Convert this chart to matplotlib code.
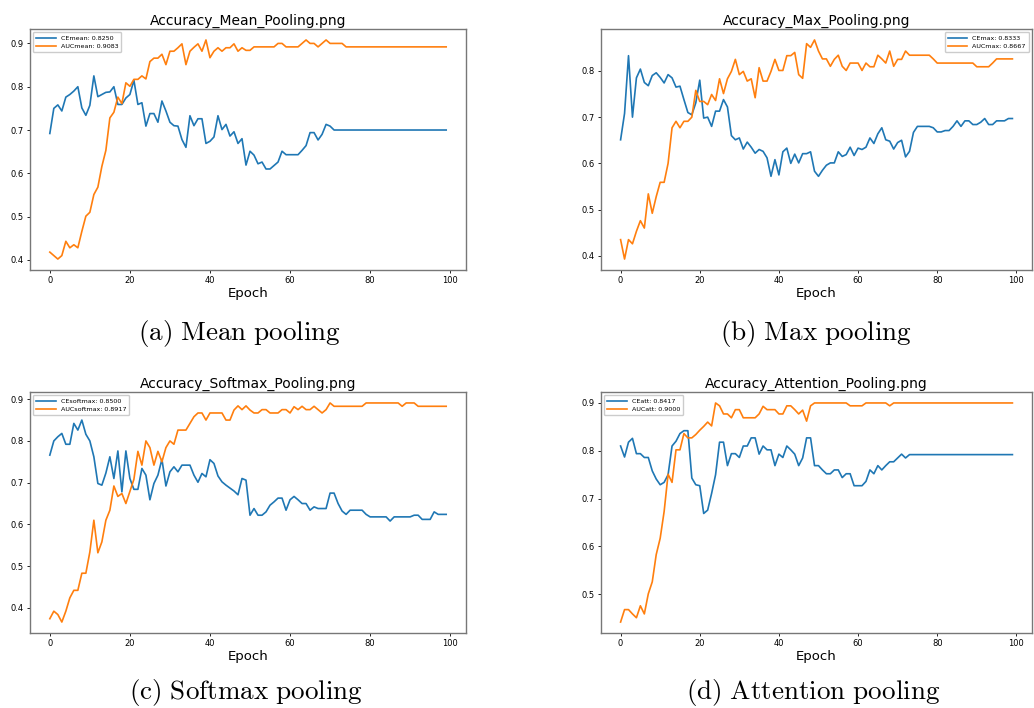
import numpy as np
import matplotlib.pyplot as plt

plt.rcParams['mathtext.fontset'] = 'cm'

epochs = np.arange(100)

# ---- (a) mean pooling ----
ce_mean = [0.692, 0.750, 0.758, 0.744, 0.776, 0.782, 0.790, 0.800, 0.751, 0.734,
           0.757, 0.825, 0.777, 0.782, 0.787, 0.788, 0.800, 0.759, 0.759, 0.774,
           0.782, 0.815, 0.759, 0.763, 0.709, 0.738, 0.738, 0.718, 0.767, 0.744,
           0.718, 0.710, 0.709, 0.678, 0.660, 0.733, 0.710, 0.726, 0.726, 0.669,
           0.674, 0.684, 0.733, 0.701, 0.713, 0.686, 0.696, 0.669, 0.680, 0.619,
           0.651, 0.642, 0.622, 0.626, 0.610, 0.610, 0.618, 0.626, 0.651, 0.643,
           0.643, 0.643, 0.643, 0.653, 0.664, 0.694, 0.694, 0.677, 0.690, 0.713,
           0.709, 0.700, 0.700, 0.700, 0.700, 0.700, 0.700, 0.700, 0.700, 0.700,
           0.700, 0.700, 0.700, 0.700, 0.700, 0.700, 0.700, 0.700, 0.700, 0.700,
           0.700, 0.700, 0.700, 0.700, 0.700, 0.700, 0.700, 0.700, 0.700, 0.700]
auc_mean = [0.418, 0.410, 0.402, 0.410, 0.443, 0.428, 0.435, 0.428, 0.466, 0.501,
            0.510, 0.551, 0.568, 0.616, 0.653, 0.728, 0.741, 0.776, 0.761, 0.809,
            0.801, 0.817, 0.817, 0.825, 0.818, 0.858, 0.866, 0.866, 0.875, 0.851,
            0.882, 0.882, 0.890, 0.899, 0.851, 0.882, 0.891, 0.899, 0.882, 0.908,
            0.867, 0.882, 0.890, 0.882, 0.890, 0.890, 0.899, 0.882, 0.890, 0.884,
            0.884, 0.892, 0.892, 0.892, 0.892, 0.892, 0.892, 0.900, 0.900, 0.892,
            0.892, 0.892, 0.892, 0.900, 0.908, 0.900, 0.900, 0.892, 0.900, 0.908,
            0.900, 0.900, 0.900, 0.900, 0.892, 0.892, 0.892, 0.892, 0.892, 0.892,
            0.892, 0.892, 0.892, 0.892, 0.892, 0.892, 0.892, 0.892, 0.892, 0.892,
            0.892, 0.892, 0.892, 0.892, 0.892, 0.892, 0.892, 0.892, 0.892, 0.892]

# ---- (b) max pooling ----
ce_max = [0.651, 0.708, 0.833, 0.700, 0.785, 0.804, 0.775, 0.768, 0.790, 0.796,
          0.786, 0.774, 0.792, 0.785, 0.765, 0.767, 0.738, 0.710, 0.705, 0.731,
          0.780, 0.698, 0.700, 0.680, 0.713, 0.713, 0.738, 0.722, 0.660, 0.651,
          0.655, 0.631, 0.646, 0.635, 0.622, 0.630, 0.626, 0.612, 0.572, 0.608,
          0.575, 0.625, 0.633, 0.600, 0.620, 0.601, 0.621, 0.621, 0.625, 0.583,
          0.572, 0.585, 0.596, 0.601, 0.601, 0.625, 0.615, 0.619, 0.635, 0.617,
          0.633, 0.630, 0.635, 0.655, 0.643, 0.664, 0.677, 0.651, 0.648, 0.631,
          0.645, 0.650, 0.614, 0.626, 0.667, 0.680, 0.680, 0.680, 0.680, 0.677,
          0.668, 0.668, 0.671, 0.671, 0.680, 0.692, 0.680, 0.692, 0.692, 0.684,
          0.684, 0.689, 0.697, 0.684, 0.684, 0.692, 0.692, 0.692, 0.697, 0.697]
auc_max = [0.435, 0.393, 0.435, 0.426, 0.453, 0.476, 0.460, 0.534, 0.492, 0.528,
           0.559, 0.559, 0.600, 0.677, 0.691, 0.677, 0.691, 0.691, 0.700, 0.758,
           0.734, 0.734, 0.727, 0.749, 0.736, 0.783, 0.751, 0.783, 0.799, 0.825,
           0.792, 0.799, 0.778, 0.783, 0.742, 0.807, 0.778, 0.778, 0.799, 0.825,
           0.801, 0.801, 0.833, 0.833, 0.840, 0.792, 0.784, 0.859, 0.851, 0.867,
           0.843, 0.826, 0.826, 0.810, 0.825, 0.834, 0.810, 0.801, 0.817, 0.817,
           0.817, 0.801, 0.817, 0.809, 0.809, 0.834, 0.826, 0.817, 0.843, 0.810,
           0.825, 0.825, 0.843, 0.834, 0.834, 0.834, 0.834, 0.834, 0.834, 0.826,
           0.817, 0.817, 0.817, 0.817, 0.817, 0.817, 0.817, 0.817, 0.817, 0.817,
           0.809, 0.809, 0.809, 0.809, 0.817, 0.826, 0.826, 0.826, 0.826, 0.826]

# ---- (c) softmax pooling ----
ce_softmax = [0.766, 0.800, 0.810, 0.818, 0.792, 0.792, 0.842, 0.826, 0.850, 0.816,
              0.800, 0.762, 0.698, 0.694, 0.723, 0.762, 0.710, 0.776, 0.678, 0.776,
              0.710, 0.684, 0.684, 0.734, 0.718, 0.659, 0.698, 0.718, 0.756, 0.692,
              0.726, 0.738, 0.726, 0.742, 0.742, 0.742, 0.718, 0.701, 0.722, 0.714,
              0.755, 0.746, 0.716, 0.702, 0.694, 0.687, 0.680, 0.671, 0.710, 0.706,
              0.622, 0.638, 0.622, 0.622, 0.630, 0.646, 0.654, 0.663, 0.663, 0.634,
              0.659, 0.667, 0.659, 0.650, 0.650, 0.634, 0.642, 0.638, 0.638, 0.638,
              0.675, 0.675, 0.650, 0.632, 0.624, 0.634, 0.634, 0.634, 0.634, 0.624,
              0.618, 0.618, 0.618, 0.618, 0.618, 0.608, 0.618, 0.618, 0.618, 0.618,
              0.618, 0.622, 0.622, 0.612, 0.612, 0.612, 0.630, 0.624, 0.624, 0.624]
auc_softmax = [0.374, 0.392, 0.384, 0.366, 0.392, 0.424, 0.442, 0.442, 0.483, 0.483,
               0.534, 0.610, 0.532, 0.558, 0.610, 0.634, 0.692, 0.667, 0.674, 0.650,
               0.679, 0.708, 0.775, 0.742, 0.800, 0.784, 0.742, 0.775, 0.750, 0.784,
               0.800, 0.792, 0.826, 0.826, 0.826, 0.842, 0.858, 0.867, 0.867, 0.850,
               0.867, 0.867, 0.867, 0.867, 0.850, 0.850, 0.874, 0.884, 0.875, 0.884,
               0.874, 0.867, 0.867, 0.875, 0.875, 0.867, 0.867, 0.867, 0.875, 0.875,
               0.867, 0.882, 0.875, 0.883, 0.875, 0.875, 0.883, 0.875, 0.867, 0.875,
               0.891, 0.883, 0.883, 0.883, 0.883, 0.883, 0.883, 0.883, 0.883, 0.891,
               0.891, 0.891, 0.891, 0.891, 0.891, 0.891, 0.891, 0.891, 0.883, 0.891,
               0.891, 0.891, 0.883, 0.883, 0.883, 0.883, 0.883, 0.883, 0.883, 0.883]

# ---- (d) attention pooling ----
ce_att = [0.810, 0.787, 0.818, 0.826, 0.794, 0.794, 0.786, 0.786, 0.758, 0.741,
          0.729, 0.734, 0.750, 0.810, 0.820, 0.836, 0.842, 0.842, 0.743, 0.729,
          0.727, 0.669, 0.676, 0.711, 0.750, 0.818, 0.818, 0.769, 0.794, 0.794,
          0.786, 0.810, 0.810, 0.827, 0.827, 0.793, 0.810, 0.802, 0.802, 0.769,
          0.793, 0.786, 0.810, 0.802, 0.793, 0.769, 0.785, 0.827, 0.827, 0.769,
          0.769, 0.760, 0.752, 0.752, 0.760, 0.760, 0.744, 0.752, 0.752, 0.727,
          0.727, 0.727, 0.736, 0.760, 0.752, 0.769, 0.760, 0.769, 0.777, 0.777,
          0.785, 0.793, 0.785, 0.792, 0.792, 0.792, 0.792, 0.792, 0.792, 0.792,
          0.792, 0.792, 0.792, 0.792, 0.792, 0.792, 0.792, 0.792, 0.792, 0.792,
          0.792, 0.792, 0.792, 0.792, 0.792, 0.792, 0.792, 0.792, 0.792, 0.792]
auc_att = [0.442, 0.468, 0.468, 0.459, 0.451, 0.476, 0.459, 0.501, 0.526, 0.583,
           0.617, 0.673, 0.751, 0.734, 0.802, 0.802, 0.836, 0.827, 0.827, 0.834,
           0.843, 0.851, 0.860, 0.852, 0.900, 0.894, 0.877, 0.877, 0.869, 0.886,
           0.886, 0.869, 0.869, 0.869, 0.869, 0.877, 0.893, 0.886, 0.886, 0.886,
           0.877, 0.877, 0.894, 0.894, 0.886, 0.877, 0.885, 0.862, 0.894, 0.900,
           0.900, 0.900, 0.900, 0.900, 0.900, 0.900, 0.900, 0.900, 0.894, 0.894,
           0.894, 0.894, 0.900, 0.900, 0.900, 0.900, 0.900, 0.900, 0.894, 0.900,
           0.900, 0.900, 0.900, 0.900, 0.900, 0.900, 0.900, 0.900, 0.900, 0.900,
           0.900, 0.900, 0.900, 0.900, 0.900, 0.900, 0.900, 0.900, 0.900, 0.900,
           0.900, 0.900, 0.900, 0.900, 0.900, 0.900, 0.900, 0.900, 0.900, 0.900]

titles = ['Accuracy_Mean_Pooling.png', 'Accuracy_Max_Pooling.png',
          'Accuracy_Softmax_Pooling.png', 'Accuracy_Attention_Pooling.png']
ce_labels = ['CEmean: 0.8250', 'CEmax: 0.8333', 'CEsoftmax: 0.8500', 'CEatt: 0.8417']
auc_labels = ['AUCmean: 0.9083', 'AUCmax: 0.8667', 'AUCsoftmax: 0.8917', 'AUCatt: 0.9000']
captions = ['(a)\\ Mean\\ pooling', '(b)\\ Max\\ pooling',
            '(c)\\ Softmax\\ pooling', '(d)\\ Attention\\ pooling']
ce_series = [ce_mean, ce_max, ce_softmax, ce_att]
auc_series = [auc_mean, auc_max, auc_softmax, auc_att]
legend_locs = ['upper left', 'upper right', 'upper left', 'upper left']

W, H = 1034, 708
# axes boxes in pixels: left, top, right, bottom
boxes = [(30, 29, 466, 270), (601, 29, 1032, 270),
         (30, 392, 466, 633), (601, 392, 1032, 633)]
caption_xy = [(240, 334), (816, 334), (246, 693), (813, 693)]

fig = plt.figure(figsize=(W / 100, H / 100), dpi=100)

for i, (l, t, r, b) in enumerate(boxes):
    ax = fig.add_axes([l / W, 1 - b / H, (r - l) / W, (b - t) / H])
    ax.plot(epochs, ce_series[i], color='#1f77b4', lw=1.2, label=ce_labels[i])
    ax.plot(epochs, auc_series[i], color='#ff7f0e', lw=1.2, label=auc_labels[i])
    ax.set_title(titles[i], fontsize=10, pad=3)
    ax.set_xlabel('Epoch', fontsize=9.5, labelpad=1)
    ax.set_xticks([0, 20, 40, 60, 80, 100])
    ax.tick_params(labelsize=6, length=2.5, width=0.6, pad=2)
    for sp in ax.spines.values():
        sp.set_color('#777777')
        sp.set_linewidth(1.0)
    ax.legend(loc=legend_locs[i], fontsize=4.6, handlelength=3, borderpad=0.5,
              labelspacing=0.4, framealpha=1)
    cx, cy = caption_xy[i]
    fig.text(cx / W, 1 - cy / H, f'$\\mathrm{{{captions[i]}}}$', fontsize=19.5,
             ha='center', va='center')

fig.savefig('out.png', dpi=100)
